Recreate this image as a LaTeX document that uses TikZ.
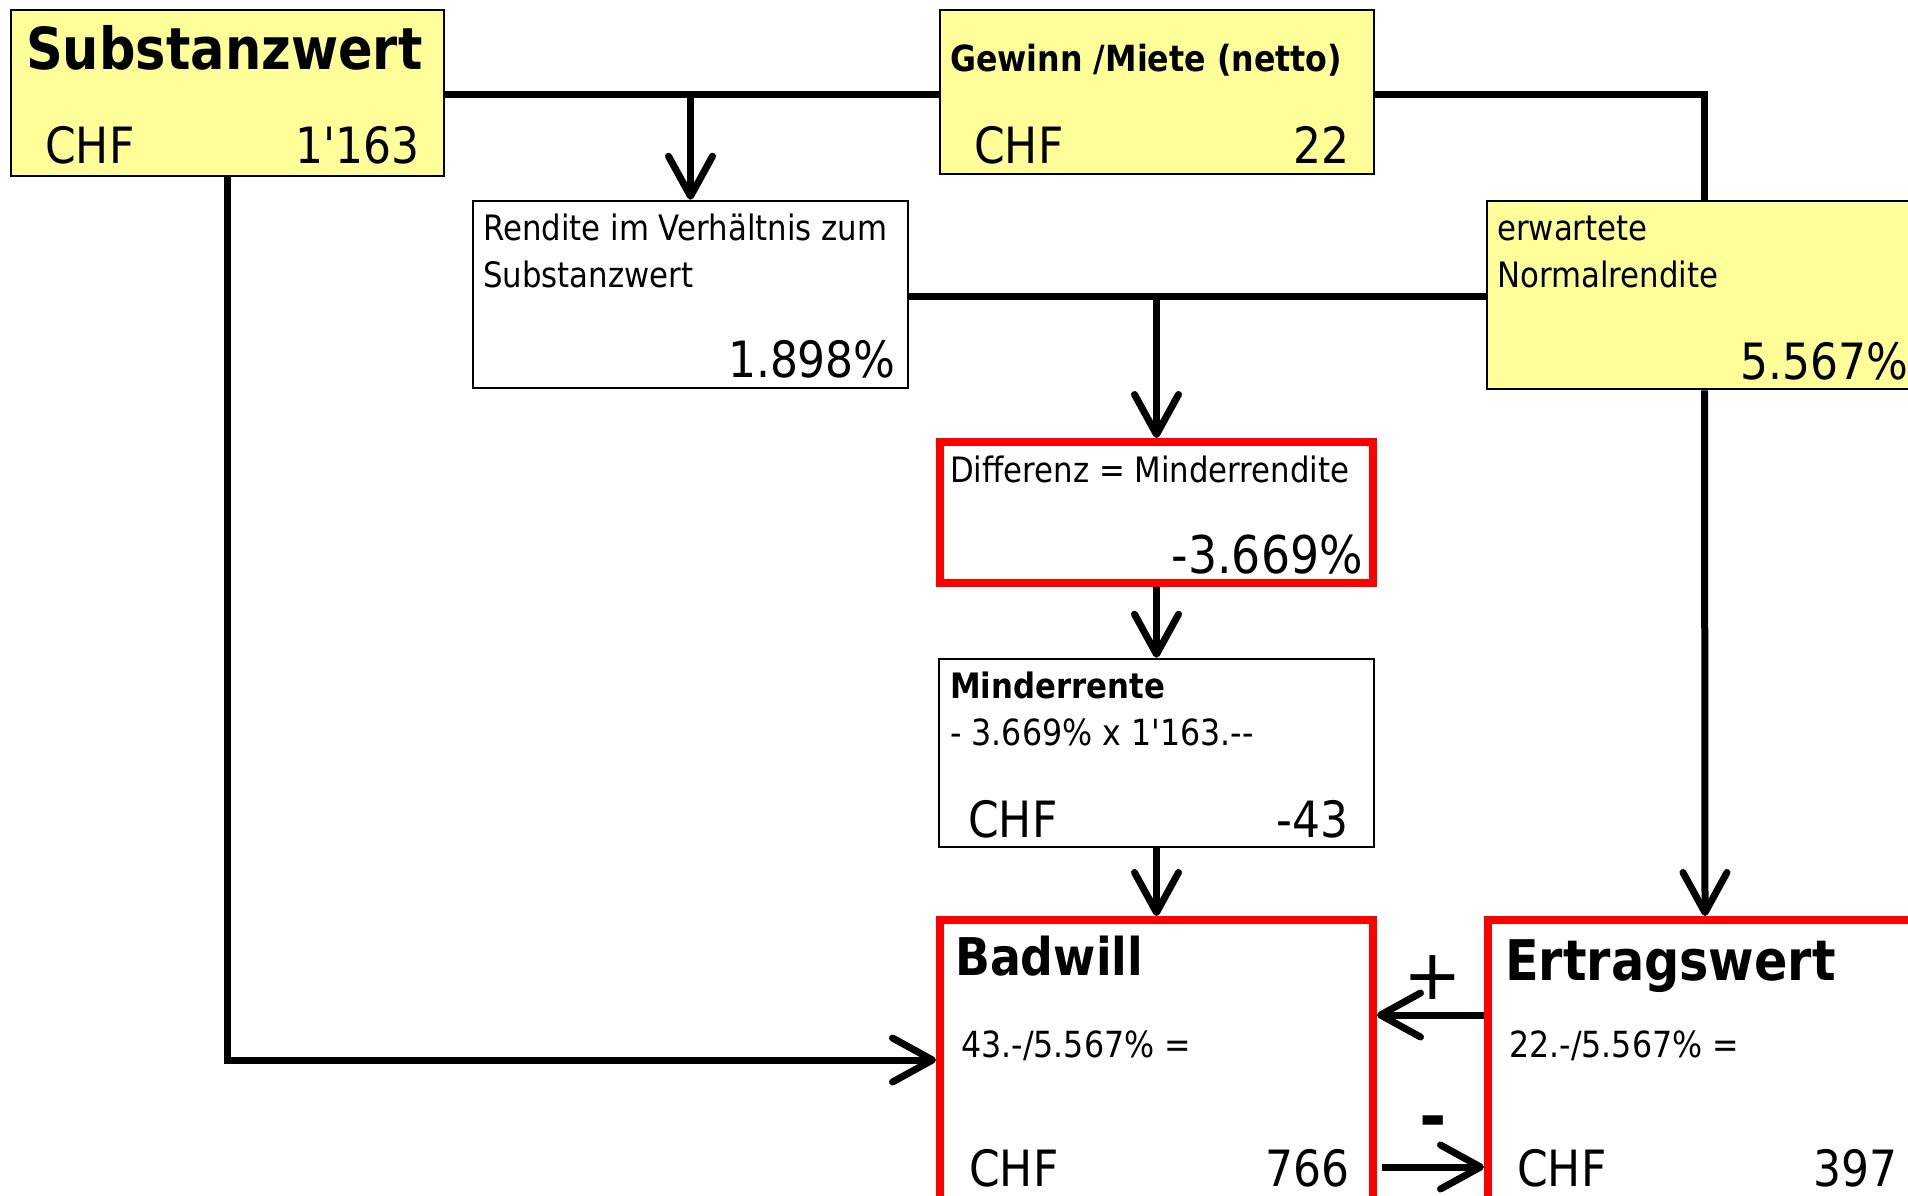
\documentclass[tikz,border=0pt]{standalone}
\usepackage{fontspec}
\setmainfont{DejaVu Sans}[FakeStretch=0.88, Ligatures=TeXOff]
\newfontfamily\signfont{DejaVu Sans}[Ligatures=TeXOff]
\usetikzlibrary{arrows.meta}
\definecolor{boxyellow}{RGB}{255,255,153}
\definecolor{boxred}{RGB}{255,0,0}
\newcommand\fsz[1]{\fontsize{#1}{#1}\selectfont}
\tikzset{
  ybox/.style={draw=black, line width=2.5pt, fill=boxyellow, rectangle, inner sep=0pt},
  wbox/.style={draw=black, line width=2.5pt, fill=white, rectangle, inner sep=0pt},
  rbox/.style={draw=boxred, line width=8pt, fill=white, rectangle, inner sep=0pt},
  conn/.style={draw=black, line width=7pt},
  arr/.style={-{Straight Barb[length=40pt,width=44pt,round]}},
  lt/.style={anchor=base west, inner sep=0pt},
  rt/.style={anchor=base east, inner sep=0pt}
}
\begin{document}
\begin{tikzpicture}[x=1pt,y=-1pt]
\useasboundingbox (0,0) rectangle (1908,1196);
% boxes
\node[ybox, minimum width=433pt, minimum height=166pt] (subst) at (227.5,93) {};
\node[ybox, minimum width=434pt, minimum height=164pt] (gew) at (1157,92) {};
\node[wbox, minimum width=435pt, minimum height=187pt] (rend) at (690.5,294.5) {};
\node[ybox, minimum width=435pt, minimum height=188pt] (erw) at (1704.5,295) {};
\node[rbox, minimum width=433pt, minimum height=141pt] (diff) at (1156.5,512.5) {};
\node[wbox, minimum width=435pt, minimum height=188pt] (mind) at (1156.5,753) {};
\node[rbox, minimum width=433pt, minimum height=295pt] (bad) at (1156.5,1067.5) {};
\node[rbox, minimum width=434pt, minimum height=295pt] (ert) at (1705,1067.5) {};
% texts
\node[lt] (substT) at (26,70) {\bfseries\fsz{58}Substanzwert};
\node[lt] (substC) at (45,164) {\fsz{50}CHF};
\node[rt] (substV) at (420,164) {\fsz{50}1'163};
\node[lt] (gewT) at (950,72) {\bfseries\fsz{36}Gewinn /Miete (netto)};
\node[lt] (gewC) at (974,164) {\fsz{50}CHF};
\node[rt] (gewV) at (1350,164) {\fsz{50}22};
\node[lt] (rendT1) at (483,240) {\fsz{35}Rendite im Verhältnis zum};
\node[lt] (rendT2) at (483,287) {\fsz{35}Substanzwert};
\node[rt] (rendV) at (896,377) {\fsz{50}1.898\%};
\node[lt] (erwT1) at (1497,240) {\fsz{35}erwartete};
\node[lt] (erwT2) at (1497,287) {\fsz{35}Normalrendite};
\node[lt] (erwV) at (1740,379) {\fsz{50}5.567\%};
\node[lt] (diffT) at (950,482) {\fsz{35}Differenz = Minderrendite};
\node[rt] (diffV) at (1363,573) {\fsz{52}-3.669\%};
\node[lt] (mindT) at (950,698) {\bfseries\fsz{35}Minderrente};
\node[lt] (mindF) at (950,745) {\fsz{36}- 3.669\% x 1'163.--};
\node[lt] (mindC) at (968,837) {\fsz{50}CHF};
\node[rt] (mindV) at (1349,837) {\fsz{50}-43};
\node[lt] (badT) at (955,975) {\bfseries\fsz{52}Badwill};
\node[lt] (badF) at (961,1057) {\fsz{36}43.-/5.567\% =};
\node[lt] (badC) at (969,1186) {\fsz{50}CHF};
\node[rt] (badV) at (1350,1186) {\fsz{50}766};
\node[lt] (ertT) at (1505,980) {\bfseries\fsz{56}Ertragswert};
\node[lt] (ertF) at (1509,1057) {\fsz{36}22.-/5.567\% =};
\node[lt] (ertC) at (1517,1186) {\fsz{50}CHF};
\node[rt] (ertV) at (1898,1186) {\fsz{50}397};
% connectors
\coordinate (j1) at (690.5,95);
\coordinate (j2) at (1156.5,296);
\draw[conn] (subst.east |- 0,95) -- (gew.west |- 0,95);
\draw[conn,arr] (j1) -- (rend.north);
\draw[conn] (gew.east |- 0,95) -- (erw.north |- 0,95) -- (erw.north);
\draw[conn,arr] (subst.south) -- (subst.south |- 0,1060) -- (bad.west |- 0,1060);
\draw[conn] (rend.east |- 0,296) -- (erw.west |- 0,296);
\draw[conn,arr] (j2) -- (diff.north);
\draw[conn,arr] (diff.south) -- (mind.north);
\draw[conn,arr] (mind.south) -- (bad.north);
\draw[conn,arr] (erw.south) -- (ert.north);
\draw[conn,arr] (ert.west |- 0,1015) -- (bad.east |- 0,1015);
\draw[conn,arr] ([xshift=5pt]bad.east |- 0,1167) -- (ert.west |- 0,1167);
% signs
\node[anchor=base, inner sep=0pt] (plus) at (1433,999) {\signfont\fsz{70}+};
\node[anchor=base, inner sep=0pt] (minus) at (1433,1139) {\signfont\bfseries\fsz{66}-};
\end{tikzpicture}
\end{document}
